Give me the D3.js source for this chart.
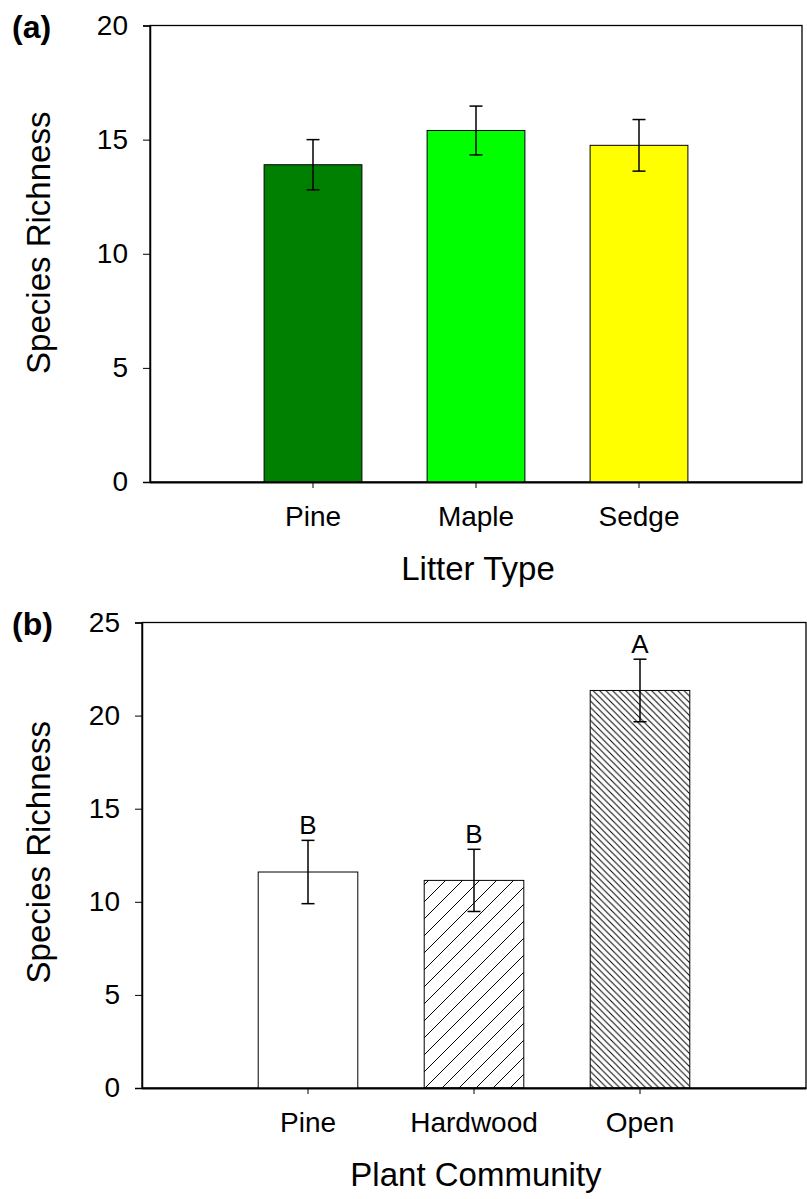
<!DOCTYPE html>
<html>
<head>
<meta charset="utf-8">
<script src="https://cdn.jsdelivr.net/npm/d3@7"></script>
<style>
  body { margin: 0; background: #fff; }
  svg text { font-family: "Liberation Sans", Arial, sans-serif; fill: #000; }
</style>
</head>
<body>
<div id="chart"></div>
<script>
// panel (a) - litter type
var litterTypes = ["Pine", "Maple", "Sedge"];
var litterMeans = [13.9, 15.4, 14.75];
var litterErr = [1.1, 1.07, 1.13];
var litterColors = ["#008000", "#00ff00", "#ffff00"];
var litterTicks = [0, 5, 10, 15, 20];

// panel (b) - plant community
var communities = ["Pine", "Hardwood", "Open"];
var communityMeans = [11.6, 11.15, 21.35];
var communityErr = [1.7, 1.67, 1.68];
var communityLetters = ["B", "B", "A"];
var communityFills = ["#fff", "url(#hatchWide)", "url(#hatchDense)"];
var communityTicks = [0, 5, 10, 15, 20, 25];

var svg = d3.select("#chart").append("svg")
    .attr("width", 807).attr("height", 1199);

var defs = svg.append("defs");

// "/" wide hatch
var w1 = 17;
defs.append("pattern")
    .attr("id", "hatchWide")
    .attr("patternUnits", "userSpaceOnUse")
    .attr("width", w1).attr("height", w1)
  .append("path")
    .attr("d", "M0," + w1 + "L" + w1 + ",0M-2,2L2,-2M" + (w1 - 2) + "," + (w1 + 2) + "L" + (w1 + 2) + "," + (w1 - 2))
    .attr("stroke", "#000").attr("stroke-width", 1);

// "\" dense hatch
var w2 = 6.5;
defs.append("pattern")
    .attr("id", "hatchDense")
    .attr("patternUnits", "userSpaceOnUse")
    .attr("width", w2).attr("height", w2)
  .append("path")
    .attr("d", "M0,0L" + w2 + "," + w2 + "M-2," + (w2 - 2) + "L2," + (w2 + 2) + "M" + (w2 - 2) + ",-2L" + (w2 + 2) + ",2")
    .attr("stroke", "#000").attr("stroke-width", 1);

function panel(opt) {
    var g = svg.append("g");
    var x = d3.scaleBand()
        .domain(opt.cats)
        .range([opt.left, opt.right])
        .paddingInner(0.4)
        .paddingOuter(0.7);
    var y = d3.scaleLinear()
        .domain([0, opt.max])
        .range([opt.bottom, opt.top]);

    // frame
    g.append("rect")
        .attr("x", opt.left).attr("y", opt.top)
        .attr("width", opt.right - opt.left)
        .attr("height", opt.bottom - opt.top)
        .attr("fill", "none").attr("stroke", "#000").attr("stroke-width", 1.3);

    // bars
    g.selectAll("rect.bar")
        .data(opt.means)
        .enter().append("rect")
        .attr("class", "bar")
        .attr("x", function(d, i) { return x(opt.cats[i]); })
        .attr("y", function(d) { return y(d); })
        .attr("width", x.bandwidth())
        .attr("height", function(d) { return y(0) - y(d); })
        .attr("fill", function(d, i) { return opt.fills[i]; })
        .attr("stroke", "#000").attr("stroke-width", 1);

    // error bars
    var eb = g.selectAll("g.err")
        .data(opt.means)
        .enter().append("g")
        .attr("class", "err")
        .attr("stroke", "#000").attr("stroke-width", 1.5);
    eb.append("line")
        .attr("x1", function(d, i) { return x(opt.cats[i]) + x.bandwidth() / 2; })
        .attr("x2", function(d, i) { return x(opt.cats[i]) + x.bandwidth() / 2; })
        .attr("y1", function(d, i) { return y(d - opt.err[i]); })
        .attr("y2", function(d, i) { return y(d + opt.err[i]); });
    [-1, 1].forEach(function(s) {
        eb.append("line")
            .attr("x1", function(d, i) { return x(opt.cats[i]) + x.bandwidth() / 2 - 6.5; })
            .attr("x2", function(d, i) { return x(opt.cats[i]) + x.bandwidth() / 2 + 6.5; })
            .attr("y1", function(d, i) { return y(d + s * opt.err[i]); })
            .attr("y2", function(d, i) { return y(d + s * opt.err[i]); });
    });

    if (opt.letters) {
        g.selectAll("text.sig")
            .data(opt.letters)
            .enter().append("text")
            .attr("x", function(d, i) { return x(opt.cats[i]) + x.bandwidth() / 2; })
            .attr("y", function(d, i) { return y(opt.means[i] + opt.err[i]) - 6; })
            .attr("text-anchor", "middle")
            .style("font-size", "26px")
            .text(function(d) { return d; });
    }

    // axes
    var yAxis = g.append("g")
        .attr("transform", "translate(" + opt.left + ",0)")
        .call(d3.axisLeft(y).tickValues(opt.ticks).tickSize(7).tickPadding(15));
    yAxis.select(".domain").attr("stroke-width", 1.5);
    yAxis.selectAll("text").style("font-size", "28px");

    var xAxis = g.append("g")
        .attr("transform", "translate(0," + opt.bottom + ")")
        .call(d3.axisBottom(x).tickSize(6).tickPadding(18).tickSizeOuter(0));
    xAxis.select(".domain").attr("stroke-width", 2.2);
    xAxis.selectAll("text").style("font-size", "28px");

    g.append("text")
        .attr("x", (opt.left + opt.right) / 2 + 2)
        .attr("y", opt.bottom + 98)
        .attr("text-anchor", "middle")
        .style("font-size", "33px")
        .text(opt.xTitle);

    g.append("text")
        .attr("transform", "translate(50," + ((opt.top + opt.bottom) / 2 + opt.titleShift) + ") rotate(-90)")
        .attr("text-anchor", "middle")
        .style("font-size", "33px")
        .text("Species Richness");

    g.append("text")
        .attr("x", 12).attr("y", opt.top + 12)
        .style("font-size", "32px")
        .style("font-weight", "bold")
        .text(opt.label);
}

panel({
    cats: litterTypes, means: litterMeans, err: litterErr, fills: litterColors,
    ticks: litterTicks, max: 20,
    left: 150, right: 802, top: 25.5, bottom: 482,
    xTitle: "Litter Type", label: "(a)", titleShift: -11
});

panel({
    cats: communities, means: communityMeans, err: communityErr, fills: communityFills,
    letters: communityLetters, ticks: communityTicks, max: 25,
    left: 142, right: 806, top: 622.5, bottom: 1088,
    xTitle: "Plant Community", label: "(b)", titleShift: -3
});
</script>
</body>
</html>
